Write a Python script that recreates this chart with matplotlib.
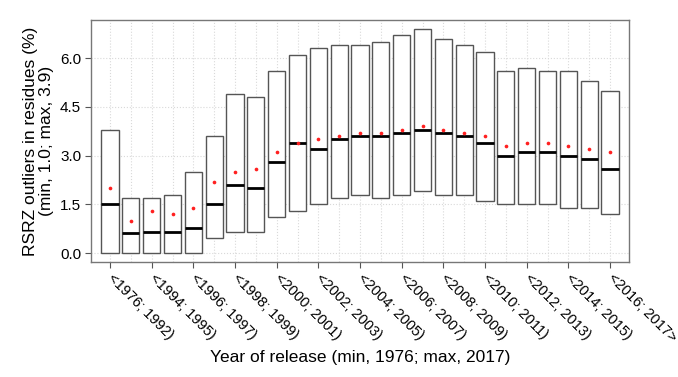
import matplotlib
matplotlib.use("Agg")
import matplotlib.pyplot as plt
import numpy as np

plt.rcParams['font.family'] = ['Liberation Sans', 'DejaVu Sans']

labels = ["<1976; 1992)", "<1992; 1994)", "<1994; 1995)", "<1995; 1996)", "<1996; 1997)",
          "<1997; 1998)", "<1998; 1999)", "<1999; 2000)", "<2000; 2001)", "<2001; 2002)",
          "<2002; 2003)", "<2003; 2004)", "<2004; 2005)", "<2005; 2006)", "<2006; 2007)",
          "<2007; 2008)", "<2008; 2009)", "<2009; 2010)", "<2010; 2011)", "<2011; 2012)",
          "<2012; 2013)", "<2013; 2014)", "<2014; 2015)", "<2015; 2016)", "<2016; 2017>"]
box_min = [0.0, 0.0, 0.0, 0.0, 0.0, 0.45, 0.65, 0.65, 1.1, 1.3, 1.5, 1.7, 1.8, 1.7, 1.8,
           1.9, 1.8, 1.8, 1.6, 1.5, 1.5, 1.5, 1.4, 1.4, 1.2]
box_max = [3.8, 1.7, 1.7, 1.8, 2.5, 3.6, 4.9, 4.8, 5.6, 6.1, 6.3, 6.4, 6.4, 6.5, 6.7,
           6.9, 6.6, 6.4, 6.2, 5.6, 5.7, 5.6, 5.6, 5.3, 5.0]
medians = [1.5, 0.61, 0.65, 0.65, 0.77, 1.5, 2.1, 2.0, 2.8, 3.4, 3.2, 3.5, 3.6, 3.6, 3.7,
           3.8, 3.7, 3.6, 3.4, 3.0, 3.1, 3.1, 3.0, 2.9, 2.6]
means = [2.0, 1.0, 1.3, 1.2, 1.4, 2.2, 2.5, 2.6, 3.1, 3.4, 3.5, 3.6, 3.7, 3.7, 3.8,
         3.9, 3.8, 3.7, 3.6, 3.3, 3.4, 3.4, 3.3, 3.2, 3.1]
yticks = [0.0, 1.5, 3.0, 4.5, 6.0]

fig = plt.figure(figsize=(6.78, 3.77), dpi=100)
ax = fig.add_axes([0.134, 0.305, 0.794, 0.642])

pos = np.arange(1, len(labels) + 1)
width = 0.82
bmin = np.array(box_min)
bmax = np.array(box_max)

ax.yaxis.grid(True, color='#d9d9d9', linestyle=':', linewidth=0.8)
ax.set_axisbelow(True)
for p in pos:
    ax.axvline(p, color='#d9d9d9', linestyle=':', linewidth=0.8, zorder=0)

ax.bar(pos, bmax - bmin, bottom=bmin, width=width, facecolor='white',
       edgecolor='#555555', linewidth=1.0, zorder=2)
ax.hlines(medians, pos - width / 2, pos + width / 2, color='black', linewidth=2.0, zorder=3)
ax.scatter(pos, means, s=7, color='#ff2020', zorder=4, linewidths=0)

ax.set_xlim(0.08, 25.92)
ax.set_ylim(-0.276, 7.176)

ax.set_yticks(yticks)
ax.set_yticklabels([f"{v:.1f}" for v in yticks])
ax.set_xticks(pos[::2])
ax.set_xticklabels(labels[::2], rotation=-45, ha='left', va='center',
                   rotation_mode='anchor')

for s in ax.spines.values():
    s.set_color('#777777')
    s.set_linewidth(1.0)
ax.tick_params(axis='both', direction='out', length=4, color='#555555',
               labelsize=11, labelcolor='black', pad=3)
ax.tick_params(axis='x', labelsize=10.5, pad=6)

ax.set_ylabel("RSRZ outliers in residues (%)\n(min, 1.0; max, 3.9)", fontsize=12.5,
              linespacing=1.1, labelpad=4)
ax.set_xlabel("Year of release (min, 1976; max, 2017)", fontsize=12.5, labelpad=4)

fig.savefig("out.png", dpi=100)
